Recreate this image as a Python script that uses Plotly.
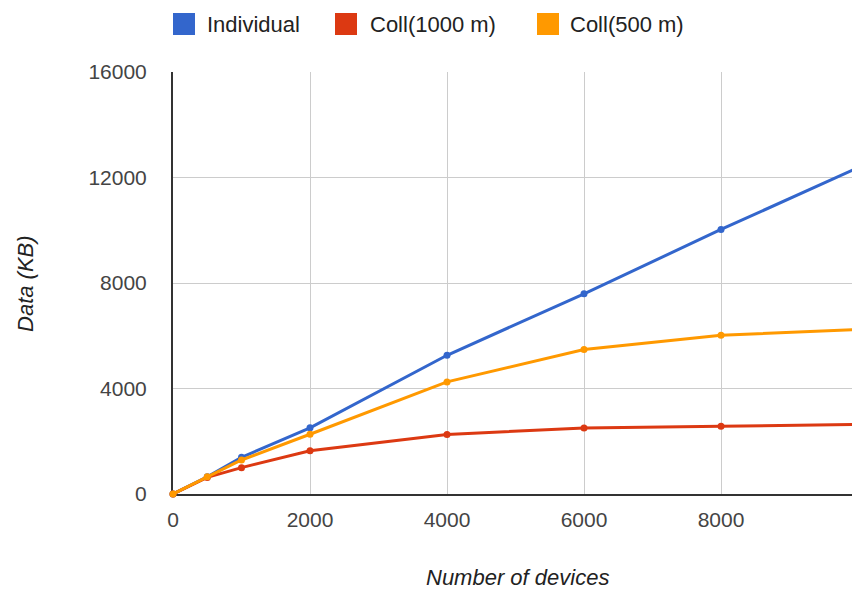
import plotly.graph_objects as go

devices = [0, 500, 1000, 2000, 4000, 6000, 8000, 10000]
individual = [0, 650, 1390, 2510, 5260, 7590, 10030, 12370]
coll_1000 = [0, 630, 1000, 1640, 2260, 2500, 2565, 2640]
coll_500 = [0, 650, 1290, 2265, 4250, 5480, 6020, 6240]

series_names = ["Individual", "Coll(1000 m)", "Coll(500 m)"]
series_values = [individual, coll_1000, coll_500]
colors = ["#3366cc", "#dc3912", "#ff9900"]
x_ticks = [0, 2000, 4000, 6000, 8000]
y_ticks = [0, 4000, 8000, 12000, 16000]

FONT = "Liberation Sans, Arial, sans-serif"

fig = go.Figure()
for name, vals, col in zip(series_names, series_values, colors):
    fig.add_trace(go.Scatter(
        x=devices, y=vals, mode="lines+markers", name=name,
        line=dict(color=col, width=3), marker=dict(color=col, size=7),
        showlegend=False, cliponaxis=False,
    ))

# legend drawn as paper-positioned swatches and labels
legend_sq_x = [0.0, 0.2386, 0.5361]
legend_txt_x = [0.0470, 0.2870, 0.5815]
sq_w = 0.0324
shapes = []
annotations = []
for name, col, sx, tx in zip(series_names, colors, legend_sq_x, legend_txt_x):
    shapes.append(dict(type="rect", xref="paper", yref="paper",
                       x0=sx, x1=sx + sq_w, y0=1.0877, y1=1.1398,
                       fillcolor=col, line=dict(width=0)))
    annotations.append(dict(text=name, xref="paper", yref="paper",
                            x=tx, y=1.1137, showarrow=False,
                            xanchor="left", yanchor="middle",
                            font=dict(family=FONT, size=22, color="#222")))

annotations += [
    dict(text="<i>Number of devices</i>", xref="paper", yref="paper",
         x=0.508, y=-0.199, showarrow=False, xanchor="center", yanchor="middle",
         font=dict(family=FONT, size=22, color="#222")),
    dict(text="<i>Data (KB)</i>", xref="paper", yref="paper",
         x=-0.218, y=0.5, showarrow=False, textangle=-90,
         xanchor="center", yanchor="middle",
         font=dict(family=FONT, size=22, color="#222")),
]

fig.update_layout(
    width=852, height=589,
    margin=dict(l=173, r=0, t=72, b=95),
    paper_bgcolor="white", plot_bgcolor="white",
    font=dict(family=FONT, color="#444"),
    showlegend=False,
    xaxis=dict(
        range=[0, 9912], tickvals=x_ticks, ticktext=[str(v) for v in x_ticks],
        showgrid=True, gridcolor="#cccccc", gridwidth=1,
        showline=True, linecolor="#333333", linewidth=2,
        zeroline=False, ticks="", ticklabelstandoff=6,
        tickfont=dict(family=FONT, size=21, color="#444"),
        layer="below traces",
    ),
    yaxis=dict(
        range=[0, 16000], tickvals=y_ticks, ticktext=[str(v) for v in y_ticks],
        showgrid=True, gridcolor="#cccccc", gridwidth=1,
        showline=True, linecolor="#333333", linewidth=2,
        zeroline=False, ticks="", ticklabelstandoff=20,
        tickfont=dict(family=FONT, size=21, color="#444"),
        layer="below traces",
    ),
    shapes=shapes,
    annotations=annotations,
)

fig.write_html(
    "out.html",
    config={"displayModeBar": False},
    post_script="document.body.style.margin='0';document.body.style.overflow='hidden';",
)
